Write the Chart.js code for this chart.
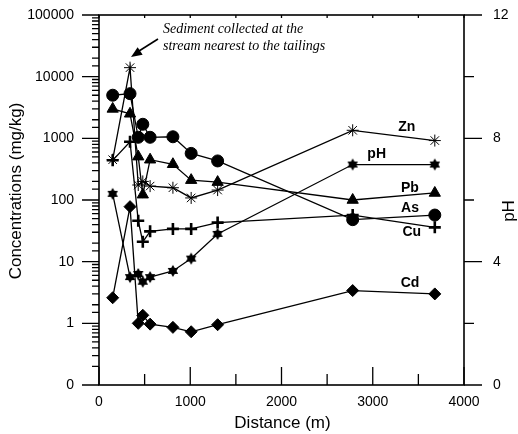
<!DOCTYPE html>
<html>
<head>
<meta charset="utf-8">
<script src="https://cdn.jsdelivr.net/npm/chart.js@4.4.1/dist/chart.umd.min.js"></script>
<style>
  html, body { margin: 0; padding: 0; background: #fff; }
</style>
</head>
<body>
<canvas id="chart" width="518" height="434"></canvas>
<script>
// distance along the stream (m)
const distances = [150, 340, 430, 480, 560, 810, 1010, 1300, 2780, 3680];
// concentrations (mg/kg)
const asValues = [5000, 5300, 1040, 1690, 1040, 1060, 570, 430, 48, 57];
const pbValues = [3000, 2500, 505, 122, 450, 380, 210, 195, 100, 130];
const znValues = [450, 14000, 175, 200, 168, 158, 108, 145, 1350, 920];
const cuValues = [440, 880, 46, 21, 31, 34, 34, 43, 57, 36];
const cdValues = [2.6, 78, 1.0, 1.35, 0.97, 0.86, 0.73, 0.95, 3.4, 3.0];
// pH (right axis)
const phValues = [6.2, 3.5, 3.6, 3.35, 3.5, 3.7, 4.1, 4.9, 7.15, 7.15];

// series labels at the right end: [text, distance, concentration]
const seriesLabels = [
  ["Zn", 3372, 1540],
  ["pH", 3043, 551],
  ["Pb", 3408, 155],
  ["As", 3408, 73],
  ["Cu", 3427, 30],
  ["Cd", 3408, 4.5],
];
const noteLines = ["Sediment collected at the", "stream nearest to the tailings"];

const pts = (vals) => distances.map((d, i) => ({ x: d, y: vals[i] }));

function hexStar(r) {
  const c = document.createElement("canvas");
  c.width = c.height = 2 * r + 2;
  const g = c.getContext("2d");
  g.translate(r + 1, r + 1);
  g.fillStyle = "#000";
  g.beginPath();
  for (let i = 0; i < 12; i++) {
    const ang = Math.PI / 6 * i - Math.PI / 2;
    const rr = i % 2 ? r * 0.6 : r;
    g.lineTo(rr * Math.cos(ang), rr * Math.sin(ang));
  }
  g.closePath();
  g.fill();
  return c;
}

function series(label, data, style, extra) {
  return Object.assign({
    label,
    data,
    borderColor: "#000",
    backgroundColor: "#000",
    borderWidth: 1.3,
    pointStyle: style,
    pointRadius: 6,
    pointBackgroundColor: "#000",
    pointBorderColor: "#000",
    pointBorderWidth: 1,
    tension: 0,
    fill: false,
  }, extra || {});
}

const isPow10 = (v) => {
  const l = Math.log10(v);
  return Math.abs(l - Math.round(l)) < 1e-6;
};

const frame = {
  id: "frame",
  afterDraw(chart) {
    const { ctx, chartArea: a, scales } = chart;
    const { x, y, y1 } = scales;
    ctx.save();
    ctx.strokeStyle = "#000";
    ctx.lineWidth = 1.6;
    ctx.strokeRect(a.left, a.top, a.right - a.left, a.bottom - a.top);

    ctx.lineWidth = 1.3;
    ctx.beginPath();
    x.ticks.forEach(t => {
      const px = x.getPixelForValue(t.value);
      const len = t.value % 1000 === 0 ? 18 : 11;
      ctx.moveTo(px, a.bottom); ctx.lineTo(px, a.bottom - len);
      ctx.moveTo(px, a.top); ctx.lineTo(px, a.top + 3);
    });
    y.ticks.forEach(t => {
      const py = y.getPixelForValue(t.value);
      ctx.moveTo(a.left, py); ctx.lineTo(a.left - (isPow10(t.value) ? 17 : 7), py);
    });
    y1.ticks.forEach(t => {
      const py = y1.getPixelForValue(t.value);
      ctx.moveTo(a.right, py); ctx.lineTo(a.right + (t.value % 4 === 0 ? 18 : 10), py);
    });
    ctx.stroke();

    ctx.fillStyle = "#000";
    // axis titles
    ctx.font = "17px 'Liberation Sans', Arial, sans-serif";
    ctx.textAlign = "center";
    ctx.textBaseline = "middle";
    ctx.fillText("Distance (m)", (a.left + a.right) / 2 + 1, 423);
    ctx.save();
    ctx.translate(16, 191);
    ctx.rotate(-Math.PI / 2);
    ctx.fillText("Concentrations (mg/kg)", 0, 0);
    ctx.restore();
    ctx.save();
    ctx.translate(509, 211);
    ctx.rotate(-Math.PI / 2);
    ctx.fillText("pH", 0, 0);
    ctx.restore();

    // series labels
    ctx.font = "bold 14px 'Liberation Sans', Arial, sans-serif";
    seriesLabels.forEach(([txt, d, v]) => {
      ctx.fillText(txt, x.getPixelForValue(d), y.getPixelForValue(v));
    });

    // note + arrow
    ctx.font = "italic 14px 'Liberation Serif', 'Times New Roman', serif";
    ctx.textAlign = "left";
    ctx.fillText(noteLines[0], 163, 29);
    ctx.fillText(noteLines[1], 163, 46);
    ctx.lineWidth = 1.6;
    ctx.beginPath();
    ctx.moveTo(158, 39);
    ctx.lineTo(139, 51);
    ctx.stroke();
    const tipX = 131, tipY = 57;
    const ang = Math.atan2(tipY - 39, tipX - 158);
    ctx.beginPath();
    ctx.moveTo(tipX, tipY);
    ctx.lineTo(tipX - 11 * Math.cos(ang) + 4.5 * Math.sin(ang), tipY - 11 * Math.sin(ang) - 4.5 * Math.cos(ang));
    ctx.lineTo(tipX - 11 * Math.cos(ang) - 4.5 * Math.sin(ang), tipY - 11 * Math.sin(ang) + 4.5 * Math.cos(ang));
    ctx.closePath();
    ctx.fill();
    ctx.restore();
  }
};

const tickFont = { family: "'Liberation Sans', Arial, sans-serif", size: 14 };

new Chart(document.getElementById("chart"), {
  type: "line",
  data: {
    datasets: [
      series("As", pts(asValues), "circle"),
      series("Pb", pts(pbValues), "triangle", { pointRadius: 6.5 }),
      series("Zn", pts(znValues), "star", { pointBackgroundColor: "#fff", pointRadius: 6 }),
      series("Cu", pts(cuValues), "cross", { pointBorderWidth: 2.6, pointRadius: 6 }),
      series("Cd", pts(cdValues), "rectRot", { pointRadius: 6 }),
      series("pH", pts(phValues), hexStar(6), { yAxisID: "y1" }),
    ],
  },
  options: {
    responsive: false,
    animation: false,
    layout: { padding: { top: 15, left: 0, right: 0, bottom: 0 } },
    plugins: { legend: { display: false }, tooltip: { enabled: false } },
    scales: {
      x: {
        type: "linear",
        min: 0,
        max: 4000,
        grid: { display: false, drawTicks: false },
        border: { display: false },
        ticks: {
          stepSize: 500,
          autoSkip: false,
          maxRotation: 0,
          padding: 9,
          color: "#000",
          font: tickFont,
          callback: v => (v % 1000 === 0 ? String(v) : ""),
        },
        afterFit: s => { s.height = 49; s.paddingLeft = 0; s.paddingRight = 0; },
      },
      y: {
        type: "logarithmic",
        position: "left",
        min: 0.1,
        max: 100000,
        grid: { display: false, drawTicks: false },
        border: { display: false },
        ticks: {
          autoSkip: false,
          padding: 25,
          color: "#000",
          font: tickFont,
          callback: v => (isPow10(v) ? (v < 1 ? "0" : String(Math.round(v))) : ""),
        },
        afterFit: s => { s.width = 99; s.paddingTop = 0; s.paddingBottom = 0; },
      },
      y1: {
        type: "linear",
        position: "right",
        min: 0,
        max: 12,
        grid: { display: false, drawTicks: false },
        border: { display: false },
        ticks: {
          stepSize: 2,
          autoSkip: false,
          padding: 29,
          color: "#000",
          font: tickFont,
          callback: v => (v % 4 === 0 ? String(v) : ""),
        },
        afterFit: s => { s.width = 54; s.paddingTop = 0; s.paddingBottom = 0; },
      },
    },
  },
  plugins: [frame],
});
</script>
</body>
</html>
